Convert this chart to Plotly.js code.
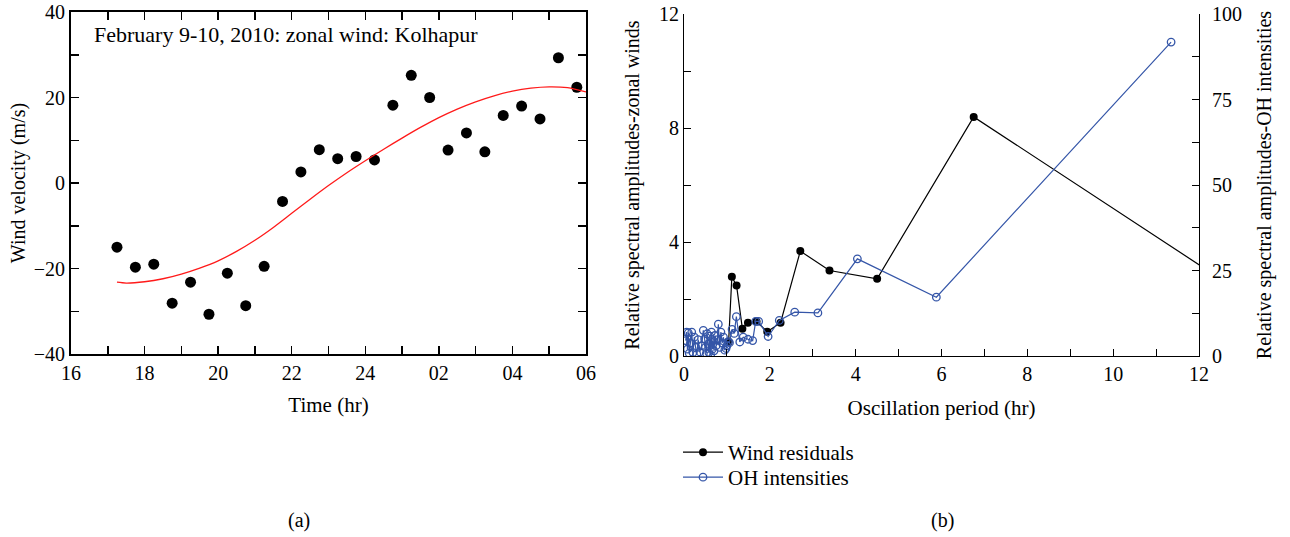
<!DOCTYPE html>
<html>
<head>
<meta charset="utf-8">
<script src="https://cdn.plot.ly/plotly-3.0.1.min.js"></script>
<style>html,body{margin:0;padding:0;background:#fff;}#chart{width:1290px;height:537px;}</style>
</head>
<body>
<div id="chart"></div>
<script>
// Panel (a): zonal wind observations (hours, 24+ means after midnight)
const windTime = [17.25,17.75,18.25,18.75,19.25,19.75,20.25,20.75,21.25,21.75,22.25,22.75,23.25,23.75,24.25,24.75,25.25,25.75,26.25,26.75,27.25,27.75,28.25,28.75,29.25,29.75];
const windVel  = [-15.0,-19.7,-19.0,-28.1,-23.2,-30.7,-21.1,-28.7,-19.5,-4.3,2.6,7.8,5.7,6.2,5.4,18.2,25.2,20.0,7.7,11.7,7.3,15.8,18.0,15.0,29.3,22.4];
// Panel (a): fitted curve
const fitTime = [17.25,17.5,18,18.5,19,19.5,20,20.5,21,21.5,22,22.5,23,23.5,24,24.5,25,25.5,26,26.5,27,27.5,28,28.5,29,29.5,30];
const fitVel  = [-23.2,-23.4,-23.1,-22.4,-21.3,-19.9,-18.2,-16.0,-13.4,-10.4,-7.1,-3.8,-0.6,2.4,5.2,7.9,10.5,13.0,15.3,17.3,19.0,20.4,21.5,22.2,22.5,22.3,21.3];
const timeTickVals = [16,18,20,22,24,26,28,30];
const timeTickText = ["16","18","20","22","24","02","04","06"];

// Panel (b): spectral amplitudes
const windPeriod = [1.04,1.115,1.225,1.36,1.49,1.69,1.94,2.25,2.71,3.39,4.5,6.75,13.5];
const windAmp    = [0.5,2.78,2.47,0.96,1.17,1.21,0.85,1.17,3.68,3.0,2.71,8.39,1.72];
const ohPeriod = [0.04,0.06,0.08,0.1,0.12,0.15,0.18,0.21,0.24,0.27,0.3,0.33,0.37,0.41,0.45,0.48,0.5,0.52,0.54,0.56,0.58,0.6,0.62,0.64,0.66,0.68,0.7,0.72,0.75,0.78,0.8,0.83,0.86,0.89,0.92,0.95,0.98,1.0,1.03,1.06,1.12,1.17,1.22,1.3,1.38,1.49,1.6,1.67,1.74,1.96,2.22,2.58,3.12,4.04,5.88,11.35];
const ohAmp    = [4.5,7.0,2.0,6.8,0.8,3.8,7.0,1.0,5.5,2.5,0.5,4.8,1.2,3.0,7.5,5.0,2.5,0.8,6.5,3.5,1.0,5.8,0.3,7.0,2.0,4.5,1.5,6.0,3.0,4.8,9.3,2.5,7.0,3.8,5.5,1.7,2.2,3.0,4.2,3.9,7.8,6.6,11.5,4.1,5.5,4.9,4.5,10.1,10.1,5.7,10.4,12.8,12.6,28.4,17.2,91.8];

const FONT = "Liberation Serif, Times New Roman, serif";
const BLUE = "#3556a8";

const traces = [
  {x: windTime, y: windVel, xaxis:'x', yaxis:'y', mode:'markers', type:'scatter',
   marker:{color:'black', size:11}, showlegend:false},
  {x: fitTime, y: fitVel, xaxis:'x', yaxis:'y', mode:'lines', type:'scatter',
   line:{color:'#ff1a1a', width:1.3, shape:'spline', smoothing:0.8}, showlegend:false},
  {x: windPeriod, y: windAmp, xaxis:'x2', yaxis:'y2', mode:'lines+markers', type:'scatter',
   name:'Wind residuals', legend:'legend', line:{color:'black', width:1.2}, marker:{color:'black', size:8}},
  {x: ohPeriod, y: ohAmp, xaxis:'x2', yaxis:'y3', mode:'lines+markers', type:'scatter',
   name:'OH intensities', legend:'legend2', line:{color:BLUE, width:1.2},
   marker:{symbol:'circle-open', color:BLUE, size:7.5, line:{width:1.3, color:BLUE}}}
];

const tickFont = {family: FONT, size: 20, color: 'black'};
const xTitleFont = {family: FONT, size: 21, color: 'black'};
const yTitleFont = {family: FONT, size: 20, color: 'black'};
const common = {showgrid:false, zeroline:false, showline:true, linecolor:'black', ticks:'inside',
  tickcolor:'black', tickfont: tickFont, automargin:false};
const legendFont = {family:FONT, size:21, color:'black'};

const layout = {
  width:1290, height:537,
  margin:{l:0, r:0, t:0, b:0},
  paper_bgcolor:'white', plot_bgcolor:'white',
  font:{family: FONT, size:20, color:'black'},
  xaxis: Object.assign({}, common, {
    domain:[71/1290, 586/1290], anchor:'y', range:[16,30], linewidth:2, mirror:'ticks',
    tickvals: timeTickVals, ticktext: timeTickText, ticklen:8, tickwidth:1.5,
    minor:{dtick:1, tick0:16, ticks:'inside', ticklen:8, tickcolor:'black', tickwidth:1.5},
    title:{text:'Time (hr)', font:xTitleFont, standoff:14}
  }),
  yaxis: Object.assign({}, common, {
    domain:[1-354/537, 1-12/537], anchor:'x', range:[-40,40], linewidth:2, mirror:'ticks',
    tickvals:[-40,-20,0,20,40], ticktext:['\u221240','\u221220','0','20','40'], ticklen:8, tickwidth:1.5,
    minor:{dtick:10, tick0:0, ticks:'inside', ticklen:8, tickcolor:'black', tickwidth:1.5},
    title:{text:'Wind velocity (m/s)', font:yTitleFont, standoff:3}
  }),
  xaxis2: Object.assign({}, common, {
    domain:[684/1290, 1199/1290], anchor:'y2', range:[0,12], linewidth:1,
    tickvals:[0,2,4,6,8,10,12], ticklen:7,
    minor:{dtick:1, tick0:0, ticks:'inside', ticklen:7, tickcolor:'black'},
    title:{text:'Oscillation period (hr)', font:xTitleFont, standoff:16}
  }),
  yaxis2: Object.assign({}, common, {
    domain:[1-356/537, 1-14/537], anchor:'x2', range:[0,12], linewidth:1,
    tickvals:[0,4,8,12], ticklen:7,
    minor:{dtick:2, tick0:0, ticks:'inside', ticklen:7, tickcolor:'black'},
    title:{text:'Relative spectral amplitudes-zonal winds', font:yTitleFont, standoff:14}
  }),
  yaxis3: Object.assign({}, common, {
    domain:[1-356/537, 1-14/537], anchor:'x2', overlaying:'y2', side:'right', range:[0,100], linewidth:1,
    tickvals:[0,25,50,75,100], ticklen:7, ticklabelstandoff:8,
    minor:{dtick:12.5, tick0:0, ticks:'inside', ticklen:7, tickcolor:'black'},
    title:{text:'Relative spectral amplitudes-OH intensities', font:yTitleFont, standoff:15}
  }),
  legend:{x:678/1290, y:1-432/537, xanchor:'left', yanchor:'top', bgcolor:'rgba(0,0,0,0)',
    font:legendFont, itemwidth:40},
  legend2:{x:678/1290, y:1-457/537, xanchor:'left', yanchor:'top', bgcolor:'rgba(0,0,0,0)',
    font:legendFont, itemwidth:40},
  annotations:[
    {text:'February 9-10, 2010: zonal wind: Kolhapur', xref:'paper', yref:'paper',
     x:92/1290, y:1-35/537, xanchor:'left', yanchor:'middle', showarrow:false,
     font:{family:FONT, size:22, color:'black'}},
    {text:'(a)', xref:'paper', yref:'paper', x:299/1290, y:1-520/537, xanchor:'center', yanchor:'middle',
     showarrow:false, font:{family:FONT, size:20, color:'black'}},
    {text:'(b)', xref:'paper', yref:'paper', x:942/1290, y:1-520/537, xanchor:'center', yanchor:'middle',
     showarrow:false, font:{family:FONT, size:20, color:'black'}}
  ]
};

Plotly.newPlot('chart', traces, layout, {displayModeBar:false, staticPlot:true});
</script>
</body>
</html>
